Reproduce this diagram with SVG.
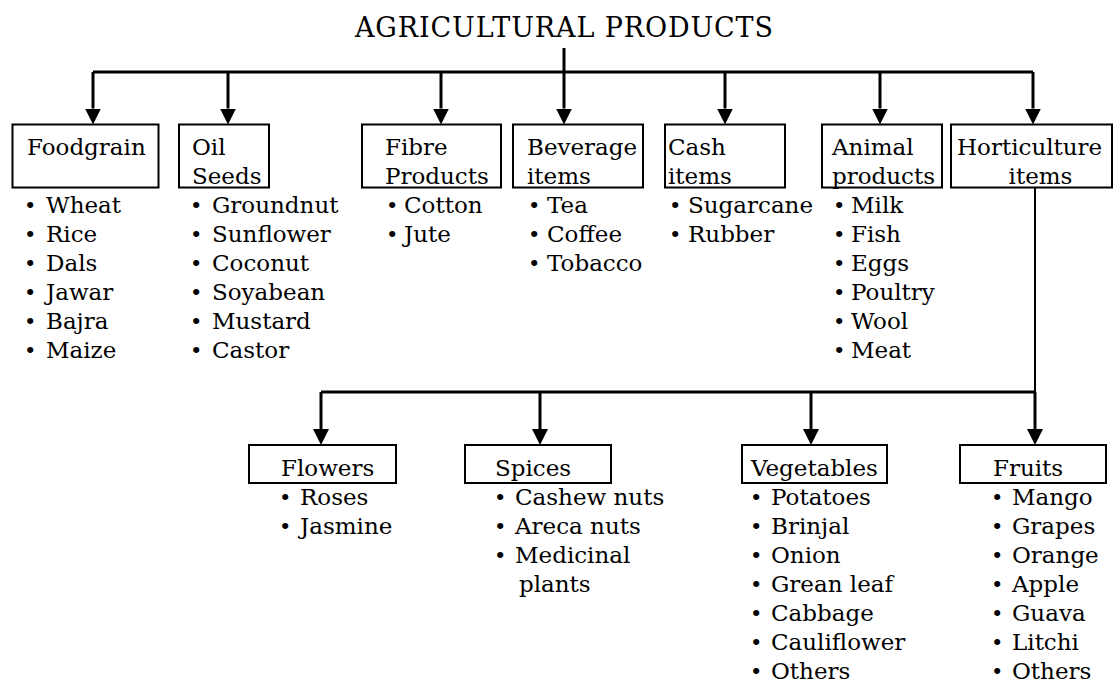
<svg xmlns="http://www.w3.org/2000/svg" width="1113" height="682" viewBox="0 0 1113 682">
<style>
text{font-family:"DejaVu Serif","Liberation Serif",serif;font-size:23px;fill:#000}
.title{font-size:27px}
.box{fill:#fff;stroke:#000;stroke-width:2}
.c{fill:none;stroke:#000;stroke-width:3}
.c2{fill:none;stroke:#000;stroke-width:2}
.arr{fill:none;stroke:#000;stroke-width:3;marker-end:url(#ah)}
.b{font-size:21px}
</style>
<defs>
<marker id="ah" markerUnits="userSpaceOnUse" markerWidth="16" markerHeight="16" viewBox="0 -8 16 16" refX="0" refY="0" orient="auto">
<path d="M0,-8 L16,0 L0,8 Z" fill="#000"/>
</marker>
</defs>
<rect width="1113" height="682" fill="#fff"/>
<g id="title"><text class="title" x="355" y="37" textLength="418" lengthAdjust="spacing">AGRICULTURAL PRODUCTS</text></g>
<g id="connectors">
<path class="c" d="M564,48 V72"/>
<path class="c" d="M93,72 H1033"/>
<path class="arr" d="M93,72 V108.5"/>
<path class="arr" d="M228,72 V108.5"/>
<path class="arr" d="M441,72 V108.5"/>
<path class="arr" d="M564,72 V108.5"/>
<path class="arr" d="M725,72 V108.5"/>
<path class="arr" d="M880,72 V108.5"/>
<path class="arr" d="M1033,72 V108.5"/>
<path class="c2" d="M1035,187 V392"/>
<path class="c" d="M321,392 H1036"/>
<path class="arr" d="M321,392 V429"/>
<path class="arr" d="M540,392 V429"/>
<path class="arr" d="M811,392 V429"/>
<path class="arr" d="M1035,392 V429"/>
</g>
<g id="foodgrain">
<rect class="box" x="12.5" y="124.5" width="146" height="63"/>
<text x="27" y="155">Foodgrain</text>
<text><tspan class="b" x="24" y="213">•</tspan><tspan x="46" y="213">Wheat</tspan></text>
<text><tspan class="b" x="24" y="242">•</tspan><tspan x="46" y="242">Rice</tspan></text>
<text><tspan class="b" x="24" y="271">•</tspan><tspan x="46" y="271">Dals</tspan></text>
<text><tspan class="b" x="24" y="300">•</tspan><tspan x="46" y="300">Jawar</tspan></text>
<text><tspan class="b" x="24" y="329">•</tspan><tspan x="46" y="329">Bajra</tspan></text>
<text><tspan class="b" x="24" y="358">•</tspan><tspan x="46" y="358">Maize</tspan></text>
</g>
<g id="oilseeds">
<rect class="box" x="179" y="124.5" width="90" height="63"/>
<text x="192" y="155">Oil</text>
<text x="192" y="184">Seeds</text>
<text><tspan class="b" x="190" y="213">•</tspan><tspan x="212" y="213">Groundnut</tspan></text>
<text><tspan class="b" x="190" y="242">•</tspan><tspan x="212" y="242">Sunflower</tspan></text>
<text><tspan class="b" x="190" y="271">•</tspan><tspan x="212" y="271">Coconut</tspan></text>
<text><tspan class="b" x="190" y="300">•</tspan><tspan x="212" y="300">Soyabean</tspan></text>
<text><tspan class="b" x="190" y="329">•</tspan><tspan x="212" y="329">Mustard</tspan></text>
<text><tspan class="b" x="190" y="358">•</tspan><tspan x="212" y="358">Castor</tspan></text>
</g>
<g id="fibre">
<rect class="box" x="362" y="124.5" width="139" height="63"/>
<text x="385" y="155">Fibre</text>
<text x="385" y="184">Products</text>
<text><tspan class="b" x="386" y="213">•</tspan><tspan x="404" y="213">Cotton</tspan></text>
<text><tspan class="b" x="386" y="242">•</tspan><tspan x="404" y="242">Jute</tspan></text>
</g>
<g id="beverage">
<rect class="box" x="513" y="124.5" width="130" height="63"/>
<text x="527" y="155">Beverage</text>
<text x="527" y="184">items</text>
<text><tspan class="b" x="528" y="213">•</tspan><tspan x="547" y="213">Tea</tspan></text>
<text><tspan class="b" x="528" y="242">•</tspan><tspan x="547" y="242">Coffee</tspan></text>
<text><tspan class="b" x="528" y="271">•</tspan><tspan x="547" y="271">Tobacco</tspan></text>
</g>
<g id="cash">
<rect class="box" x="665" y="124.5" width="120" height="63"/>
<text x="668" y="155">Cash</text>
<text x="668" y="184">items</text>
<text><tspan class="b" x="669" y="213">•</tspan><tspan x="688" y="213">Sugarcane</tspan></text>
<text><tspan class="b" x="669" y="242">•</tspan><tspan x="688" y="242">Rubber</tspan></text>
</g>
<g id="animal">
<rect class="box" x="822" y="124.5" width="120" height="63"/>
<text x="832" y="155">Animal</text>
<text x="832" y="184">products</text>
<text><tspan class="b" x="833" y="213">•</tspan><tspan x="851" y="213">Milk</tspan></text>
<text><tspan class="b" x="833" y="242">•</tspan><tspan x="851" y="242">Fish</tspan></text>
<text><tspan class="b" x="833" y="271">•</tspan><tspan x="851" y="271">Eggs</tspan></text>
<text><tspan class="b" x="833" y="300">•</tspan><tspan x="851" y="300">Poultry</tspan></text>
<text><tspan class="b" x="833" y="329">•</tspan><tspan x="851" y="329">Wool</tspan></text>
<text><tspan class="b" x="833" y="358">•</tspan><tspan x="851" y="358">Meat</tspan></text>
</g>
<g id="horticulture">
<rect class="box" x="951" y="124.5" width="161" height="63"/>
<text x="957" y="155">Horticulture</text>
<text x="1040.5" y="184" text-anchor="middle">items</text>
</g>
<g id="flowers">
<rect class="box" x="249" y="445" width="147" height="38"/>
<text x="281" y="476">Flowers</text>
<text><tspan class="b" x="279" y="505">•</tspan><tspan x="300" y="505">Roses</tspan></text>
<text><tspan class="b" x="279" y="534">•</tspan><tspan x="300" y="534">Jasmine</tspan></text>
</g>
<g id="spices">
<rect class="box" x="465" y="445" width="146" height="38"/>
<text x="495" y="476">Spices</text>
<text><tspan class="b" x="494" y="505">•</tspan><tspan x="515" y="505">Cashew nuts</tspan></text>
<text><tspan class="b" x="494" y="534">•</tspan><tspan x="515" y="534">Areca nuts</tspan></text>
<text><tspan class="b" x="494" y="563">•</tspan><tspan x="515" y="563">Medicinal</tspan></text>
<text x="519" y="592">plants</text>
</g>
<g id="vegetables">
<rect class="box" x="742" y="445" width="145" height="38"/>
<text x="751" y="476">Vegetables</text>
<text><tspan class="b" x="750" y="505">•</tspan><tspan x="771" y="505">Potatoes</tspan></text>
<text><tspan class="b" x="750" y="534">•</tspan><tspan x="771" y="534">Brinjal</tspan></text>
<text><tspan class="b" x="750" y="563">•</tspan><tspan x="771" y="563">Onion</tspan></text>
<text><tspan class="b" x="750" y="592">•</tspan><tspan x="771" y="592">Grean leaf</tspan></text>
<text><tspan class="b" x="750" y="621">•</tspan><tspan x="771" y="621">Cabbage</tspan></text>
<text><tspan class="b" x="750" y="650">•</tspan><tspan x="771" y="650">Cauliflower</tspan></text>
<text><tspan class="b" x="750" y="679">•</tspan><tspan x="771" y="679">Others</tspan></text>
</g>
<g id="fruits">
<rect class="box" x="960" y="445" width="146" height="38"/>
<text x="993" y="476">Fruits</text>
<text><tspan class="b" x="991" y="505">•</tspan><tspan x="1012" y="505">Mango</tspan></text>
<text><tspan class="b" x="991" y="534">•</tspan><tspan x="1012" y="534">Grapes</tspan></text>
<text><tspan class="b" x="991" y="563">•</tspan><tspan x="1012" y="563">Orange</tspan></text>
<text><tspan class="b" x="991" y="592">•</tspan><tspan x="1012" y="592">Apple</tspan></text>
<text><tspan class="b" x="991" y="621">•</tspan><tspan x="1012" y="621">Guava</tspan></text>
<text><tspan class="b" x="991" y="650">•</tspan><tspan x="1012" y="650">Litchi</tspan></text>
<text><tspan class="b" x="991" y="679">•</tspan><tspan x="1012" y="679">Others</tspan></text>
</g>
</svg>
